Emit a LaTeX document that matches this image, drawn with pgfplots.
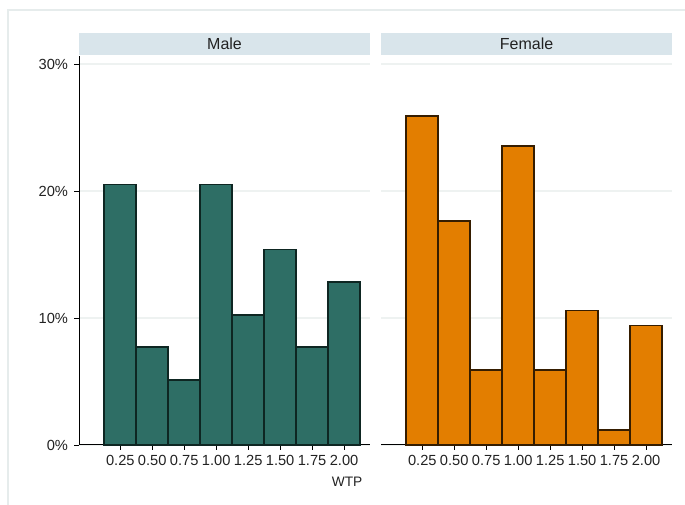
\documentclass[border=0pt]{standalone}
\usepackage{pgfplots}
\pgfplotsset{compat=1.18}
\usepackage{fontspec}
\setmainfont{Liberation Sans}

\definecolor{malefill}{HTML}{2E6E65}
\definecolor{maleedge}{HTML}{0E2622}
\definecolor{femfill}{HTML}{E37E00}
\definecolor{femedge}{HTML}{351D00}
\definecolor{stripcol}{HTML}{D9E5EB}
\definecolor{gridcol}{HTML}{EEF2F1}
\definecolor{bordercol}{HTML}{E6ECEC}
\definecolor{txtcol}{HTML}{222222}

% share of respondents (%) in each WTP bin
\pgfplotstableread{
wtp  pct
0.25 20.513
0.50 7.692
0.75 5.128
1.00 20.513
1.25 10.256
1.50 15.385
1.75 7.692
2.00 12.821
}\maletab
\pgfplotstableread{
wtp  pct
0.25 25.882
0.50 17.647
0.75 5.882
1.00 23.529
1.25 5.882
1.50 10.588
1.75 1.176
2.00 9.412
}\femtab

\pgfplotsset{
  panel/.style={
    anchor=south west,
    scale only axis,
    width=218.25pt, height=291.75pt,
    xmin=-0.073, xmax=2.203,
    ymin=0, ymax=30.63,
    xtick={0.25,0.50,0.75,1.00,1.25,1.50,1.75,2.00},
    xticklabels={0.25,0.50,0.75,1.00,1.25,1.50,1.75,2.00},
    ytick={0,10,20,30},
    yticklabels={0\%,10\%,20\%,30\%},
    ymajorgrids,
    grid style={gridcol, line width=1.1pt},
    axis x line*=bottom, axis y line*=left,
    axis line style={-, line width=0.75pt, black},
    tick align=outside,
    major tick length=3.75pt,
    tick style={line width=0.6pt, black},
    ticklabel style={font=\fontsize{11}{13}\selectfont, text=txtcol},
    xticklabel style={yshift=-0.5pt},
    yticklabel style={xshift=-1pt},
    clip=false,
  },
  hbar/.style={ybar, bar width=0.25, bar shift=0pt, line width=1.3pt},
}

\begin{document}
\begin{tikzpicture}[x=1pt,y=1pt]
\useasboundingbox (0,0) rectangle (513.75,378.75);
% graph region outline
\draw[bordercol, line width=1pt] (6,0) -- (6,371.25) -- (513.75,371.25);

% panel strips
\fill[stripcol] (59.25,337.5) rectangle (277.5,354);
\node[font=\fontsize{12}{14}\selectfont, text=txtcol] at (168.4,346) {Male};
\fill[stripcol] (285.75,337.5) rectangle (504,354);
\node[font=\fontsize{12}{14}\selectfont, text=txtcol] at (394.9,346) {Female};

\begin{axis}[panel, at={(59.25pt,45pt)}]
  \addplot[hbar, fill=malefill, draw=maleedge] table[x=wtp, y=pct] {\maletab};
\end{axis}

\begin{axis}[panel, at={(285.75pt,45pt)},
  y axis line style={draw=none},
  ytick style={draw=none},
  yticklabels={}]
  \addplot[hbar, fill=femfill, draw=femedge] table[x=wtp, y=pct] {\femtab};
\end{axis}

% x-axis title
\node[anchor=east, font=\fontsize{10.3}{12}\selectfont, text=txtcol] at (275.3,17.4) {WTP};
\end{tikzpicture}
\end{document}
